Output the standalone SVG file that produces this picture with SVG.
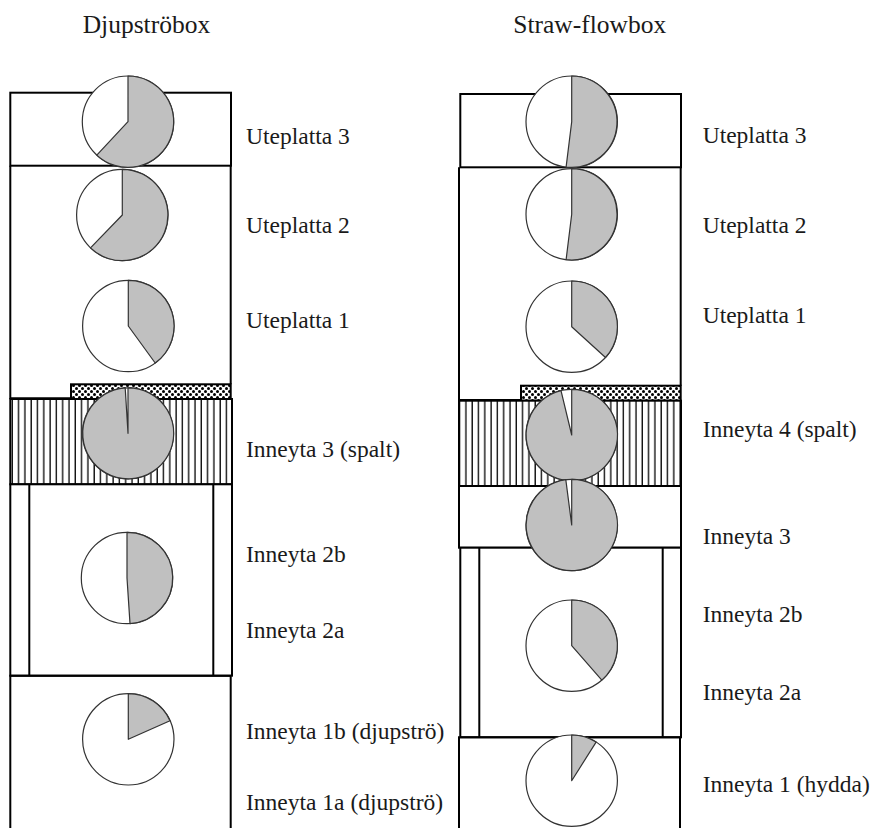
<svg xmlns="http://www.w3.org/2000/svg" width="873" height="828" viewBox="0 0 873 828">
<style>
.box{fill:#fff;stroke:#000;stroke-width:2}
.ln{fill:none;stroke:#000;stroke-width:2}
.pc{fill:#fff;stroke:#333;stroke-width:1.2}
.ps{fill:#c0c0c0;stroke:#333;stroke-width:1.2;stroke-linejoin:round}
.t{font-family:"Liberation Serif","Times New Roman",serif;font-size:23.5px;fill:#1a1a1a}
.h{font-family:"Liberation Serif","Times New Roman",serif;font-size:25.5px;fill:#1a1a1a}
.hatch{fill:url(#vh);stroke:#000;stroke-width:2}
.dots{fill:url(#dt);stroke:#000;stroke-width:2}
</style>
<defs>
<pattern id="vh" patternUnits="userSpaceOnUse" width="6.3" height="10" x="10.3" y="0">
<rect width="6.3" height="10" fill="#fff"/>
<line x1="2" y1="0" x2="2" y2="10" stroke="#000" stroke-width="1.3"/>
</pattern>
<pattern id="dt" patternUnits="userSpaceOnUse" width="6" height="6">
<rect width="6" height="6" fill="#fff"/>
<circle cx="1.5" cy="1.5" r="1.5" fill="#000"/>
<circle cx="4.5" cy="4.5" r="1.5" fill="#000"/>
</pattern>
</defs>
<g id="titles">
<text class="h" x="82.7" y="33.3">Djupströbox</text>
<text class="h" x="513.3" y="33.3">Straw-flowbox</text>
</g>
<g id="connectors"></g>
<!-- Left column -->
<g id="left-column">
<g id="L-uteplatta3"><rect class="box" x="10.3" y="92.7" width="220.7" height="73"/></g>
<g id="L-uteplatta12"><path class="ln" d="M10.3,165.7 V398.3 H71 M230.7,165.7 V384.3"/></g>
<g id="L-strip"><rect class="dots" x="71" y="384.3" width="159.7" height="14.7"/></g>
<g id="L-inneyta3"><rect class="hatch" x="10.3" y="399" width="221.7" height="85.3"/></g>
<g id="L-inneyta2"><rect class="box" x="10.3" y="484.3" width="221.7" height="191.4"/><path class="ln" d="M29.3,484.3 V675.7 M213.3,484.3 V675.7"/></g>
<g id="L-inneyta1"><path class="ln" d="M10.3,828 V675.7 H230.7 V828"/></g>
<g id="L-pie-u3"><circle class="pc" cx="128" cy="121.7" r="45.7"/><path class="ps" d="M128,121.7 V76 A45.7,45.7 0 1 1 96.8,155.1 Z"/></g>
<g id="L-pie-u2"><circle class="pc" cx="122.3" cy="215" r="45.7"/><path class="ps" d="M122.3,215 V169.3 A45.7,45.7 0 1 1 90.5,247.9 Z"/></g>
<g id="L-pie-u1"><circle class="pc" cx="128.3" cy="326" r="45.7"/><path class="ps" d="M128.3,326 V280.3 A45.7,45.7 0 0 1 155.2,363 Z"/></g>
<g id="L-pie-i3"><circle class="pc" cx="128" cy="433.3" r="45.5"/><path class="ps" d="M128,433.3 V387.8 A45.5,45.5 0 1 1 125.2,387.9 Z"/></g>
<g id="L-pie-i2"><circle class="pc" cx="127" cy="578" r="45.7"/><path class="ps" d="M127,578 V532.3 A45.7,45.7 0 0 1 130,623.6 Z"/></g>
<g id="L-pie-i1"><circle class="pc" cx="128.3" cy="739.3" r="45.7"/><path class="ps" d="M128.3,739.3 V693.6 A45.7,45.7 0 0 1 170,720.7 Z"/></g>
<g id="L-labels">
<text class="t" x="246" y="144">Uteplatta 3</text>
<text class="t" x="246" y="233.3">Uteplatta 2</text>
<text class="t" x="246" y="328.3">Uteplatta 1</text>
<text class="t" x="246" y="456.7">Inneyta 3 (spalt)</text>
<text class="t" x="246" y="561.7">Inneyta 2b</text>
<text class="t" x="246" y="637.5">Inneyta 2a</text>
<text class="t" x="246" y="739">Inneyta 1b (djupströ)</text>
<text class="t" x="246" y="810">Inneyta 1a (djupströ)</text>
</g>
</g>
<!-- Right column -->
<g id="right-column">
<g id="R-uteplatta3"><rect class="box" x="460.3" y="94" width="220.7" height="73.3"/></g>
<g id="R-uteplatta12"><path class="ln" d="M459,167.3 V400 H521 M680.7,167.3 V385.7"/></g>
<g id="R-strip"><rect class="dots" x="521" y="385.7" width="159.7" height="15"/></g>
<g id="R-inneyta4"><rect class="hatch" x="459" y="400.7" width="222" height="85.3"/></g>
<g id="R-inneyta3"><rect class="box" x="459" y="486" width="222" height="61.7"/></g>
<g id="R-inneyta2"><rect class="box" x="460.3" y="547.7" width="220.7" height="189.6"/><path class="ln" d="M479.3,547.7 V737.3 M662.7,547.7 V737.3"/></g>
<g id="R-inneyta1"><path class="ln" d="M459,828 V737.3 H680 V828"/></g>
<g id="R-pie-u3"><circle class="pc" cx="571.7" cy="121.7" r="45.7"/><path class="ps" d="M571.7,121.7 V76 A45.7,45.7 0 1 1 566.1,167.1 Z"/></g>
<g id="R-pie-u2"><circle class="pc" cx="571.7" cy="214.3" r="45.7"/><path class="ps" d="M571.7,214.3 V168.6 A45.7,45.7 0 1 1 566.1,259.7 Z"/></g>
<g id="R-pie-u1"><circle class="pc" cx="571.7" cy="326.7" r="45.7"/><path class="ps" d="M571.7,326.7 V281 A45.7,45.7 0 0 1 605.5,357.5 Z"/></g>
<g id="R-pie-i4"><circle class="pc" cx="571.7" cy="435" r="45.7"/><path class="ps" d="M571.7,435 V389.3 A45.7,45.7 0 1 1 561,390.6 Z"/></g>
<g id="R-pie-i3"><circle class="pc" cx="571.7" cy="525" r="45.7"/><path class="ps" d="M571.7,525 V479.3 A45.7,45.7 0 1 1 565.8,479.7 Z"/></g>
<g id="R-pie-i2"><circle class="pc" cx="571.7" cy="645.7" r="45.7"/><path class="ps" d="M571.7,645.7 V600 A45.7,45.7 0 0 1 601.8,680.1 Z"/></g>
<g id="R-pie-i1"><circle class="pc" cx="571.7" cy="780.7" r="45.7"/><path class="ps" d="M571.7,780.7 V735 A45.7,45.7 0 0 1 596.1,742.1 Z"/></g>
<g id="R-labels">
<text class="t" x="702.7" y="143.3">Uteplatta 3</text>
<text class="t" x="702.7" y="233.3">Uteplatta 2</text>
<text class="t" x="702.7" y="322.7">Uteplatta 1</text>
<text class="t" x="702.7" y="436.5">Inneyta 4 (spalt)</text>
<text class="t" x="702.7" y="543.5">Inneyta 3</text>
<text class="t" x="702.7" y="621.5">Inneyta 2b</text>
<text class="t" x="702.7" y="699.5">Inneyta 2a</text>
<text class="t" x="702.7" y="791.5">Inneyta 1 (hydda)</text>
</g>
</g>
</svg>
